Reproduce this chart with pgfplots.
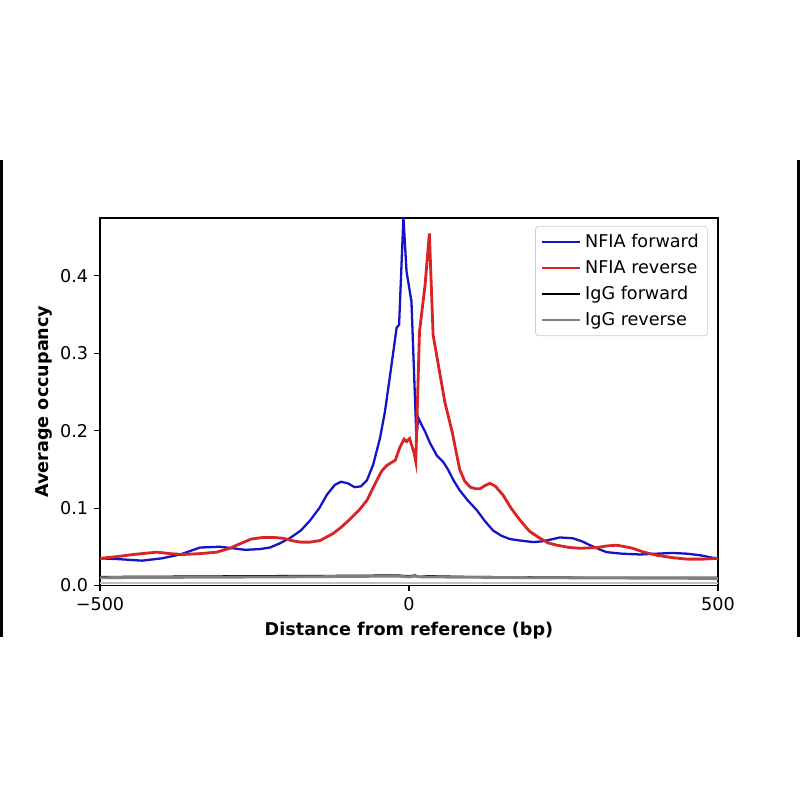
\documentclass[border=0pt]{standalone}
\usepackage{pgfplots}
\pgfplotsset{compat=1.18}
\usepackage{fontspec}
\setmainfont{DejaVu Sans}
\definecolor{nfiaF}{HTML}{1414C4}
\definecolor{nfiaR}{HTML}{D82424}
\definecolor{igR}{HTML}{808080}
\begin{document}
\begin{tikzpicture}
\useasboundingbox (0,0) rectangle (454.5pt,454.5pt);
\draw[line width=1.7pt,black] (0.85pt,92.6pt) -- (0.85pt,363.6pt);
\draw[line width=1.7pt,black] (453.6pt,92.6pt) -- (453.6pt,363.6pt);
\begin{axis}[
  scale only axis,
  width=351.1pt, height=208.8pt,
  at={(56.8pt,121.9pt)}, anchor=south west,
  xmin=-500, xmax=500, ymin=0, ymax=0.475,
  xtick={-500,0,500}, xticklabels={−500,0,500},
  ytick={0,0.1,0.2,0.3,0.4}, yticklabels={0.0,0.1,0.2,0.3,0.4},
  xtick pos=bottom, ytick pos=left,
  tick align=outside, major tick length=3.2pt,
  tick style={black, line width=0.6pt},
  axis line style={black, line width=0.7pt},
  font=\fontsize{10}{12}\selectfont,
  ticklabel style={font=\fontsize{10}{12}\selectfont},
  xlabel={\bfseries Distance from reference (bp)},
  ylabel={\bfseries Average occupancy},
  xlabel style={at={(axis description cs:0.5,-0.122)}, anchor=center},
  ylabel style={at={(axis description cs:-0.0898,0.5)}, anchor=center},
  clip=true,
  legend cell align=left,
  legend style={at={(1,1)}, anchor=north east, xshift=-5.7pt, yshift=-4.5pt,
    draw=black!20, rounded corners=2pt, fill=white, fill opacity=0.8, text opacity=1,
    font=\fontsize{10}{12}\selectfont, row sep=1.8pt, inner xsep=3pt, inner ysep=2.5pt},
  legend image code/.code={\draw[#1] (0cm,0cm) -- (0.76cm,0cm);},
]
\addplot[nfiaF, line width=1.3pt] coordinates {
(-500,0.035) (-470,0.034) (-432,0.032) (-400,0.035) (-370,0.040) (-338,0.049)
(-306,0.050) (-285,0.048) (-265,0.046) (-241,0.047) (-225,0.049) (-210,0.054)
(-193,0.061) (-175,0.071) (-160,0.084) (-145,0.100) (-133,0.117) (-120,0.130)
(-110,0.134) (-99,0.132) (-88,0.127) (-78,0.128) (-68,0.136) (-58,0.156)
(-47,0.190) (-39,0.224) (-30,0.275) (-20,0.333) (-16,0.337) (-9,0.476)
(-4,0.406) (4,0.367) (12,0.191) (15,0.217) (20,0.208) (26,0.199)
(34,0.184) (45,0.168) (55,0.160) (63,0.150)
(72,0.136) (82,0.123) (95,0.110) (110,0.097) (123,0.083) (136,0.071) (150,0.064)
(163,0.060) (180,0.058) (201,0.056) (215,0.057) (228,0.059) (244,0.062)
(265,0.061) (280,0.057) (293,0.052) (310,0.046) (320,0.043) (345,0.041)
(374,0.040) (400,0.041) (427,0.042) (450,0.041) (471,0.039) (490,0.036) (500,0.035)
};
\addlegendentry{NFIA forward}
\addplot[nfiaR, line width=1.6pt] coordinates {
(-500,0.035) (-475,0.037) (-446,0.040) (-408,0.043) (-385,0.041) (-366,0.040)
(-340,0.041) (-311,0.043) (-290,0.048) (-273,0.054) (-255,0.060) (-236,0.062)
(-220,0.062) (-204,0.061) (-190,0.058) (-176,0.056) (-160,0.056) (-144,0.058)
(-123,0.067) (-110,0.075) (-95,0.086) (-80,0.098) (-68,0.110) (-52,0.136)
(-44,0.148) (-36,0.155) (-22,0.162) (-15,0.178) (-8,0.189) (-4,0.186) (1,0.190)
(4,0.182) (8,0.172) (11,0.160) (17,0.328) (26,0.388) (33,0.455) (39,0.324)
(58,0.237) (70,0.198) (82,0.150) (90,0.135) (99,0.127) (108,0.125) (115,0.125) (123,0.129)
(131,0.132) (140,0.128) (152,0.117) (165,0.100) (180,0.084) (195,0.070)
(212,0.061) (225,0.055) (239,0.052) (260,0.049) (277,0.048) (304,0.049)
(320,0.051) (336,0.052) (350,0.050) (362,0.048) (380,0.043) (401,0.039)
(425,0.036) (450,0.034) (475,0.034) (500,0.035)
};
\addlegendentry{NFIA reverse}
\addplot[black, line width=1.2pt] coordinates {
(-500,0.011) (-250,0.012) (-100,0.0125) (-20,0.013) (0,0.012) (10,0.013)
(15,0.011) (30,0.012) (100,0.011) (300,0.010) (500,0.010)
};
\addlegendentry{IgG forward}
\addplot[igR, line width=1.6pt] coordinates {
(-500,0.010) (-200,0.011) (-20,0.012) (0,0.011) (10,0.012) (20,0.011)
(200,0.010) (500,0.009)
};
\addlegendentry{IgG reverse}
\addplot[black!25, line width=1pt, forget plot] coordinates {(-500,0.0028) (500,0.0028)};
\end{axis}
\end{tikzpicture}
\end{document}
